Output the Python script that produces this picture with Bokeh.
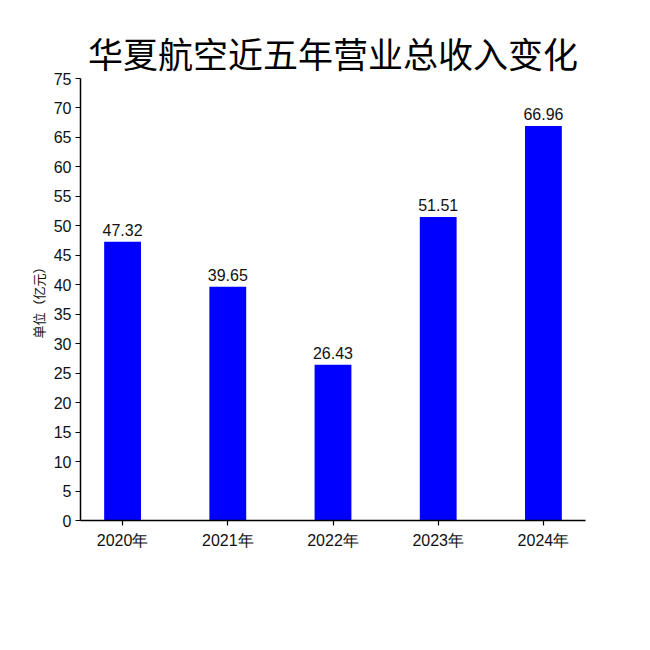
from bokeh.plotting import figure
from bokeh.models import Range1d, FixedTicker, ColumnDataSource, LabelSet
from bokeh.core.properties import value
from bokeh.embed import file_html
from bokeh.resources import INLINE

categories = ["2020年", "2021年", "2022年", "2023年", "2024年"]
revenue = [47.32, 39.65, 26.43, 51.51, 66.96]
labels = ["47.32", "39.65", "26.43", "51.51", "66.96"]
y_ticks = list(range(0, 80, 5))

xs = list(range(len(categories)))
src = ColumnDataSource(dict(x=xs, top=revenue, label=labels))

NUM_FONT = "Liberation Sans"

p = figure(width=634, height=600, output_backend="svg", toolbar_location=None,
           x_range=Range1d(-0.4, 4.4), y_range=Range1d(0, 75),
           min_border_left=80, min_border_right=49, min_border_top=78, min_border_bottom=80)
p.outline_line_color = None
p.xgrid.visible = False
p.ygrid.visible = False

p.vbar(x="x", top="top", bottom=0, width=0.35, source=src, fill_color="#0000FF", line_color=None)

p.add_layout(LabelSet(x="x", y="top", text="label", source=src, text_align="center",
                      text_baseline="bottom", y_offset=6, text_font_size=value("16px"),
                      text_font=value(NUM_FONT), text_color=value("#111111")))

p.title.text = "华夏航空近五年营业总收入变化"
p.title.text_font = "Noto Sans CJK SC"
p.title.text_font_size = "35px"
p.title.text_font_style = "normal"
p.title.align = "center"
p.title.text_color = "#000000"
p.title.standoff = 2

p.xaxis.ticker = FixedTicker(ticks=xs)
p.xaxis.major_label_overrides = {i: c for i, c in enumerate(categories)}
p.yaxis.ticker = FixedTicker(ticks=y_ticks)
for ax in (p.xaxis, p.yaxis):
    ax.axis_line_color = "#000000"
    ax.axis_line_width = 1.5
    ax.major_tick_line_color = "#000000"
    ax.major_tick_line_width = 1.2
    ax.major_tick_in = 0
    ax.major_tick_out = 5
    ax.minor_tick_line_color = None
    ax.major_label_text_font = NUM_FONT
    ax.major_label_text_font_size = "16px"
    ax.major_label_text_color = "#111111"
p.xaxis.major_label_standoff = 6
p.yaxis.major_label_standoff = 4
p.yaxis.axis_label = "单位（亿元）"
p.yaxis.axis_label_text_font = "Noto Sans CJK SC"
p.yaxis.axis_label_text_font_size = "13px"
p.yaxis.axis_label_text_font_style = "normal"
p.yaxis.axis_label_text_color = "#111111"
p.yaxis.axis_label_standoff = 3

open("out.html", "w").write(file_html(p, INLINE))
